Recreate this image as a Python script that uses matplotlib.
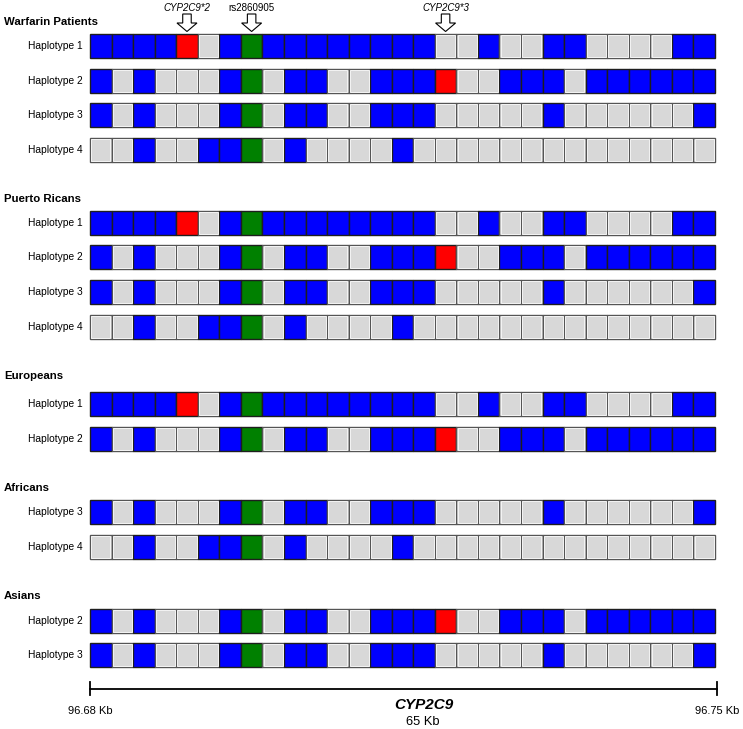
import numpy as np
import matplotlib
matplotlib.use("Agg")
import matplotlib.pyplot as plt

plt.rcParams['font.family'] = ['Liberation Sans', 'DejaVu Sans']

# ------------------------------------------------------------
# Haplotype data: 0 = minor allele (grey), 1 = major allele (blue),
# 2 = functional variant (red), 3 = rs2860905 (green)
# ------------------------------------------------------------
hap1 = [1, 1, 1, 1, 2, 0, 1, 3, 1, 1, 1, 1, 1, 1, 1, 1, 0, 0, 1, 0, 0, 1, 1, 0, 0, 0, 0, 1, 1]
hap2 = [1, 0, 1, 0, 0, 0, 1, 3, 0, 1, 1, 0, 0, 1, 1, 1, 2, 0, 0, 1, 1, 1, 0, 1, 1, 1, 1, 1, 1]
hap3 = [1, 0, 1, 0, 0, 0, 1, 3, 0, 1, 1, 0, 0, 1, 1, 1, 0, 0, 0, 0, 0, 1, 0, 0, 0, 0, 0, 0, 1]
hap4 = [0, 0, 1, 0, 0, 1, 1, 3, 0, 1, 0, 0, 0, 0, 1, 0, 0, 0, 0, 0, 0, 0, 0, 0, 0, 0, 0, 0, 0]
haplotypes = {1: hap1, 2: hap2, 3: hap3, 4: hap4}

groups = ["Warfarin Patients", "Puerto Ricans", "Europeans", "Africans", "Asians"]
group_haps = [[1, 2, 3, 4], [1, 2, 3, 4], [1, 2], [3, 4], [2, 3]]

# marker annotations (cell index, label, italic)
markers = [(4, "CYP2C9*2", True), (7, "rs2860905", False), (16, "CYP2C9*3", True)]

start_label = "96.68 Kb"
end_label = "96.75 Kb"
gene_name = "CYP2C9"
gene_size = "65 Kb"

# ------------------------------------------------------------
# Layout (pixels)
# ------------------------------------------------------------
palette = {0: "#d8d8d8", 1: "#0000ff", 2: "#ff0000", 3: "#008000"}
X0, CW, CH = 90.0, 21.55, 23.5
group_title_y = [22, 199, 376, 488, 596]
row_y = [[46, 81, 115, 150], [223, 257, 292, 327], [404, 439], [512, 547], [621, 655]]

fig = plt.figure(figsize=(7.43, 7.29), dpi=100)
ax = fig.add_axes([0, 0, 1, 1])
ax.set_xlim(0, 743)
ax.set_ylim(729, 0)
ax.axis('off')

n = len(hap1)
xs = X0 + np.arange(n) * CW

for g, title in enumerate(groups):
    ax.text(4, group_title_y[g], title, fontsize=8.2, fontweight='bold',
            ha='left', va='center')
    for h, yc in zip(group_haps[g], row_y[g]):
        vals = haplotypes[h]
        cols = [palette[v] for v in vals]
        edges = ['#555555' if v == 0 else '#1e1e1e' for v in vals]
        top = yc - CH / 2
        ax.bar(xs, CH, width=CW, bottom=top, align='edge', color=cols,
               edgecolor=edges, linewidth=1.0, zorder=2)
        # thin light bevel inside grey cells
        grey = [i for i, v in enumerate(vals) if v == 0]
        ax.bar(xs[grey] + 1.2, CH - 2.4, width=CW - 2.4, bottom=top + 1.2,
               align='edge', color='none', edgecolor='#f4f4f4', linewidth=0.7,
               zorder=3)
        ax.text(55, yc, f"Haplotype {h}", fontsize=7.4, ha='center', va='center')

# marker arrows
for idx, label, ital in markers:
    xc = X0 + (idx + 0.5) * CW
    ax.text(xc, 8, label, fontsize=7, style='italic' if ital else 'normal',
            ha='center', va='center')
    ax.arrow(xc, 14, 0, 17.5, width=8.5, head_width=20, head_length=8.5,
             length_includes_head=True, fc='white', ec='black', lw=0.8, zorder=4)

# scale bar
x_end = X0 + n * CW + 2
ax.plot([X0, x_end], [689, 689], color='black', lw=1.3)
ax.plot([X0, X0], [682, 695], color='black', lw=1.3)
ax.plot([x_end, x_end], [682, 695], color='black', lw=1.3)
ax.text(X0, 711, start_label, fontsize=8, ha='center', va='center')
ax.text(x_end, 711, end_label, fontsize=8, ha='center', va='center')
ax.text(424, 705, gene_name, fontsize=11, fontweight='bold', style='italic',
        ha='center', va='center')
ax.text(423, 722, gene_size, fontsize=9.3, ha='center', va='center')

fig.savefig("out.png", dpi=100)
